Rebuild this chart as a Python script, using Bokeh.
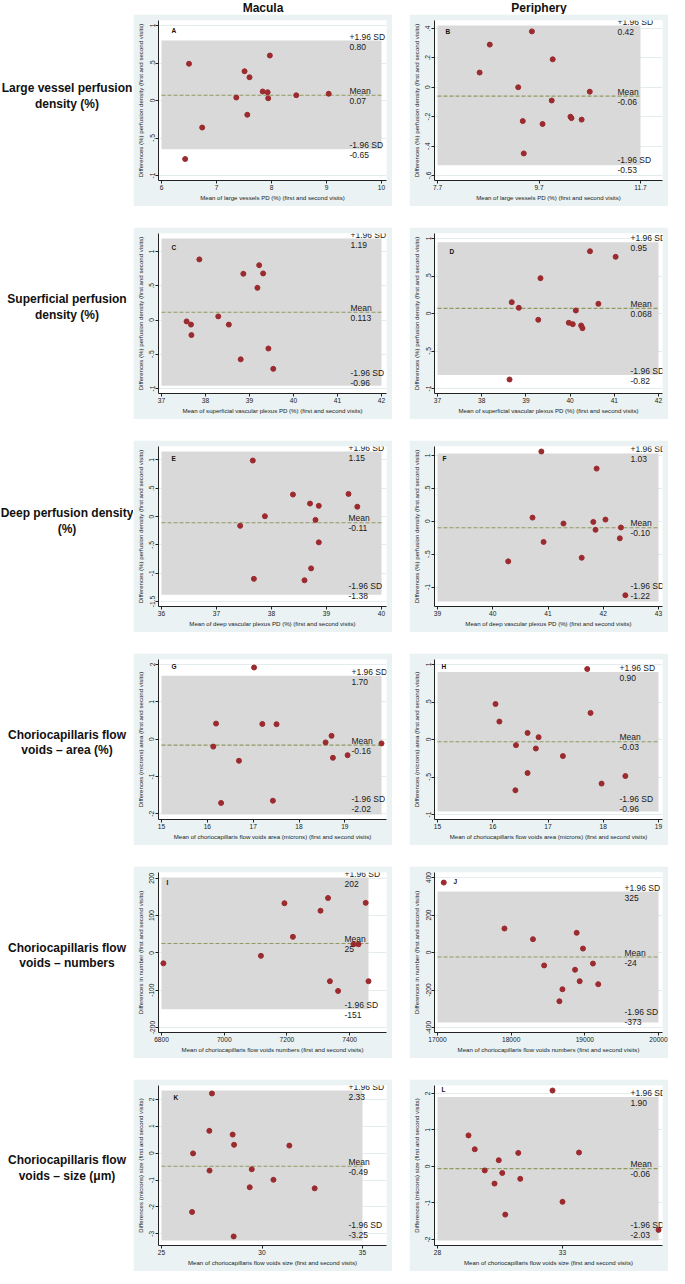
from bokeh.plotting import figure
from bokeh.models import Range1d, FixedTicker, Label, Spacer
from bokeh.layouts import row, column
from bokeh.embed import file_html
from bokeh.resources import INLINE

FONT = "Liberation Sans"

# ---------------- data ----------------
headers = ["Macula", "Periphery"]
row_labels = [
    ["Large vessel perfusion", "density (%)"],
    ["Superficial perfusion", "density (%)"],
    ["Deep perfusion density", "(%)"],
    ["Choriocapillaris flow", "voids \u2013 area (%)"],
    ["Choriocapillaris flow", "voids \u2013 numbers"],
    ["Choriocapillaris flow", "voids \u2013 size (\u03bcm)"],
]
letters = ["A", "B", "C", "D", "E", "F", "G", "H", "I", "J", "K", "L"]

a_mean = [6.50, 7.97, 7.51, 7.60, 7.84, 7.93, 7.36, 7.94, 8.45, 9.04, 7.56, 6.74, 6.43]
a_diff = [0.49, 0.60, 0.39, 0.31, 0.12, 0.11, 0.04, 0.03, 0.07, 0.09, -0.19, -0.36, -0.78]
b_mean = [8.53, 8.73, 9.56, 9.97, 9.29, 10.70, 9.95, 10.32, 10.34, 10.54, 9.38, 9.77, 9.40]
b_diff = [0.10, 0.29, 0.38, 0.19, 0.00, -0.03, -0.09, -0.20, -0.21, -0.22, -0.23, -0.25, -0.45]
c_mean = [37.86, 39.22, 38.86, 39.31, 39.18, 38.29, 37.57, 37.67, 38.53, 37.68, 39.43, 38.80, 39.54]
c_diff = [0.885, 0.80, 0.675, 0.68, 0.47, 0.053, -0.02, -0.067, -0.067, -0.22, -0.416, -0.574, -0.713]
d_mean = [40.45, 41.03, 39.33, 38.68, 38.84, 40.64, 40.13, 39.28, 39.97, 40.06, 40.25, 40.28, 38.63]
d_diff = [0.83, 0.756, 0.471, 0.151, 0.076, 0.129, 0.04, -0.084, -0.124, -0.142, -0.16, -0.196, -0.88]
e_mean = [37.66, 38.39, 39.40, 38.70, 38.86, 39.56, 37.88, 38.80, 37.43, 38.86, 38.72, 37.68, 38.60]
e_diff = [0.99, 0.39, 0.40, 0.23, 0.19, 0.175, 0.006, -0.058, -0.163, -0.455, -0.915, -1.10, -1.125]
f_mean = [40.88, 41.88, 40.72, 41.28, 41.82, 42.04, 41.86, 42.32, 42.30, 40.92, 41.61, 40.28, 42.40]
f_diff = [1.06, 0.80, 0.055, -0.035, -0.01, 0.025, -0.13, -0.095, -0.26, -0.315, -0.555, -0.61, -1.125]
g_mean = [17.02, 16.19, 17.20, 17.51, 18.71, 18.58, 16.13, 19.80, 19.06, 18.74, 16.69, 17.43, 16.30]
g_diff = [1.92, 0.416, 0.407, 0.40, 0.088, -0.088, -0.20, -0.115, -0.43, -0.50, -0.58, -1.65, -1.71]
h_mean = [17.71, 16.05, 17.77, 16.12, 16.63, 16.83, 16.42, 16.78, 17.27, 16.63, 18.40, 17.97, 16.41]
h_diff = [0.94, 0.473, 0.354, 0.239, 0.088, 0.031, -0.075, -0.12, -0.221, -0.447, -0.487, -0.588, -0.677]
i_mean = [7331, 7192, 7451, 7307, 7219, 7412, 7428, 7117, 6806, 7337, 7460, 7363]
i_diff = [147, 133, 134, 113, 43, 23, 23, -8, -28, -76, -76, -102]
j_mean = [17085, 17909, 18296, 18889, 18975, 19110, 18448, 18867, 18930, 19182, 18696, 18655]
j_diff = [373, 128, 71, 105, 21, -59, -69, -92, -153, -169, -196, -260]
k_mean = [27.51, 27.38, 28.54, 28.61, 31.36, 26.57, 27.39, 29.49, 30.57, 29.39, 32.62, 26.52, 28.59]
k_diff = [2.22, 0.83, 0.69, 0.31, 0.28, -0.01, -0.65, -0.60, -0.99, -1.27, -1.31, -2.19, -3.10]
l_mean = [32.60, 29.24, 29.49, 33.66, 31.23, 30.45, 29.89, 30.59, 31.31, 30.28, 33.00, 30.71, 36.84]
l_diff = [2.08, 0.85, 0.47, 0.38, 0.37, 0.17, -0.11, -0.18, -0.34, -0.47, -0.97, -1.32, -1.74]

means = [a_mean, b_mean, c_mean, d_mean, e_mean, f_mean, g_mean, h_mean, i_mean, j_mean, k_mean, l_mean]
diffs = [a_diff, b_diff, c_diff, d_diff, e_diff, f_diff, g_diff, h_diff, i_diff, j_diff, k_diff, l_diff]

loa_upper = ["0.80", "0.42", "1.19", "0.95", "1.15", "1.03", "1.70", "0.90", "202", "325", "2.33", "1.90"]
loa_mean = ["0.07", "-0.06", "0.113", "0.068", "-0.11", "-0.10", "-0.16", "-0.03", "25", "-24", "-0.49", "-0.06"]
loa_lower = ["-0.65", "-0.53", "-0.96", "-0.82", "-1.38", "-1.22", "-2.02", "-0.96", "-151", "-373", "-3.25", "-2.03"]

x_ticks = [
    [6, 7, 8, 9, 10], [7.7, 9.7, 11.7],
    [37, 38, 39, 40, 41, 42], [37, 38, 39, 40, 41, 42],
    [36, 37, 38, 39, 40], [39, 40, 41, 42, 43],
    [15, 16, 17, 18, 19], [15, 16, 17, 18, 19],
    [6800, 7000, 7200, 7400], [17000, 18000, 19000, 20000],
    [25, 30, 35], [28, 33],
]
x_tick_labels = [
    ["6", "7", "8", "9", "10"], ["7.7", "9.7", "11.7"],
    ["37", "38", "39", "40", "41", "42"], ["37", "38", "39", "40", "41", "42"],
    ["36", "37", "38", "39", "40"], ["39", "40", "41", "42", "43"],
    ["15", "16", "17", "18", "19"], ["15", "16", "17", "18", "19"],
    ["6800", "7000", "7200", "7400"], ["17000", "18000", "19000", "20000"],
    ["25", "30", "35"], ["28", "33"],
]
yt_pd = [-1, -0.5, 0, 0.5, 1]
yl_pd = ["-1", "-.5", "0", ".5", "1"]
y_ticks = [
    yt_pd, [-0.6, -0.4, -0.2, 0, 0.2, 0.4],
    yt_pd, yt_pd,
    [-1.5, -1, -0.5, 0, 0.5, 1], yt_pd,
    [-2, -1, 0, 1, 2], yt_pd,
    [-200, -100, 0, 100, 200], [-400, -200, 0, 200, 400],
    [-3, -2, -1, 0, 1, 2], [-2, -1, 0, 1, 2],
]
y_tick_labels = [
    yl_pd, ["-.6", "-.4", "-.2", "0", ".2", ".4"],
    yl_pd, yl_pd,
    ["-1.5", "-1", "-.5", "0", ".5", "1"], yl_pd,
    ["-2", "-1", "0", "1", "2"], yl_pd,
    ["-200", "-100", "0", "100", "200"], ["-400", "-200", "0", "200", "400"],
    ["-3", "-2", "-1", "0", "1", "2"], ["-2", "-1", "0", "1", "2"],
]
x_titles = (
    ["Mean of large vessels PD (%) (first and second visits)"] * 2
    + ["Mean of superficial vascular plexus PD (%) (first and second visits)"] * 2
    + ["Mean of deep vascular plexus PD (%) (first and second visits)"] * 2
    + ["Mean of choriocapillaris flow voids area (microns) (first and second visits)"] * 2
    + ["Mean of choriocapillaris flow voids numbers (first and second visits)"] * 2
    + ["Mean of choriocapillaris flow voids size (first and second visits)"] * 2
)
y_titles = (
    ["Differences (%) perfusion density (first and second visits)"] * 6
    + ["Differences (microns) area (first and second visits)"] * 2
    + ["Differences in number (first and second visits)"] * 2
    + ["Differences (microns) size (first and second visits)"] * 2
)

# ---------------- layout / style ----------------
LABW = 133
PW, PH = 259, 192
BL, BR, BT, BB = 25, 6, 6, 26
FW, FH = PW - BL - BR, PH - BT - BB
LEFT_PAD = 3
VPAD = 5
RIGHT_PAD = [5, 22, 5, 4, 5, 4, 5, 4, 18, 4, 24, 4]
TEXT_X = [191, 183, 192, 196, 190, 196, 193, 185, 186, 190, 190, 196]
LET_DX = [13, 11, 13, 15, 13, 8, 13, 7, 8, 19, 15, 7]
LET_DY = [10, 11, 14, 18, 12, 12, 7, 7, 10, 9, 12, 4]
ROW_LINE1 = [81, 79, 80, 90, 90, 89]
GAP_X, GAP_Y, HEAD_H = 17, 21, 14

BG = "#EAF2F3"
BAND = "#D9D9D9"
DOT = "#9B2B2F"
MEANC = "#8E9A5E"
AX = "#222222"


def make_panel(i):
    xs, ys = means[i], diffs[i]
    xt, yt = x_ticks[i], y_ticks[i]
    up, mn, lo = float(loa_upper[i]), float(loa_mean[i]), float(loa_lower[i])
    b0 = min(xt[0], min(xs))
    b1 = max(xt[-1], max(xs))
    rp = RIGHT_PAD[i]
    sx = (FW - LEFT_PAD - rp) / (b1 - b0)
    x0, x1 = b0 - LEFT_PAD / sx, b1 + rp / sx
    e0 = min(yt[0], min(ys), lo)
    e1 = max(yt[-1], max(ys), up)
    sy = (FH - 2 * VPAD) / (e1 - e0)
    y0, y1 = e0 - VPAD / sy, e1 + VPAD / sy

    p = figure(width=PW, height=PH, x_range=Range1d(x0, x1), y_range=Range1d(y0, y1),
               output_backend="svg", toolbar_location=None,
               min_border_left=BL, min_border_right=BR, min_border_top=BT, min_border_bottom=BB,
               border_fill_color=BG, background_fill_color="white", outline_line_color=None)

    p.xaxis.ticker = FixedTicker(ticks=xt)
    p.xaxis.major_label_overrides = {t: s for t, s in zip(xt, x_tick_labels[i])}
    p.yaxis.ticker = FixedTicker(ticks=yt)
    p.yaxis.major_label_overrides = {t: s for t, s in zip(yt, y_tick_labels[i])}
    p.yaxis.major_label_orientation = "vertical"
    p.xaxis.axis_label = x_titles[i]
    p.yaxis.axis_label = y_titles[i]
    for ax in (p.xaxis, p.yaxis):
        ax.axis_line_color = AX
        ax.axis_line_width = 1
        ax.major_tick_line_color = AX
        ax.major_tick_out = 3
        ax.major_tick_in = 0
        ax.minor_tick_line_color = None
        ax.major_label_text_font = FONT
        ax.major_label_text_font_size = "6.6px"
        ax.major_label_text_color = "#222222"
        ax.major_label_standoff = 1
        ax.axis_label_text_font = FONT
        ax.axis_label_text_font_size = "6.1px"
        ax.axis_label_text_font_style = "normal"
        ax.axis_label_text_color = "#222222"
    p.xaxis.axis_label_standoff = 1
    p.yaxis.axis_label_standoff = 3
    p.xgrid.visible = False
    p.ygrid.ticker = FixedTicker(ticks=yt)
    p.ygrid.grid_line_color = "#E4ECEE"

    p.quad(left=[b0], right=[b1], bottom=[lo], top=[up], fill_color=BAND, line_color=None)
    p.segment(x0=[b0], x1=[b1], y0=[mn], y1=[mn], line_color=MEANC, line_width=1.1, line_dash="4 2")
    p.scatter(xs, ys, size=5, fill_color=DOT, line_color=DOT)

    def px2x(px):
        return x0 + px * (x1 - x0) / FW

    def py2y(py):
        return y1 - py * (y1 - y0) / FH

    def y2py(v):
        return (y1 - v) * FH / (y1 - y0)

    tx = px2x(TEXT_X[i])
    for head, val, num, shift in (("+1.96 SD", loa_upper[i], up, 1.0),
                                  ("Mean", loa_mean[i], mn, 0.5),
                                  ("-1.96 SD", loa_lower[i], lo, 0.5)):
        c = min(max(y2py(num) + shift, 6), 144)
        for txt, off in ((head, -5), (val, 5)):
            p.add_layout(Label(x=tx, y=py2y(c + off), text=txt, text_font=FONT,
                               text_font_size="8.5px", text_color="#1a1a1a",
                               text_align="left", text_baseline="middle"))
    p.add_layout(Label(x=px2x(LET_DX[i]), y=py2y(LET_DY[i]), text=letters[i], text_font=FONT,
                       text_font_size="6.5px", text_font_style="bold", text_color="#111111",
                       text_align="left", text_baseline="middle"))
    return p


def blank_fig(w, h):
    f = figure(width=w, height=h, x_range=Range1d(0, w), y_range=Range1d(0, h),
               output_backend="svg", toolbar_location=None, min_border=0,
               x_axis_location=None, y_axis_location=None,
               border_fill_color="white", background_fill_color="white", outline_line_color=None)
    f.grid.visible = False
    return f


def make_row_label(r):
    f = blank_fig(LABW, PH)
    for k, line in enumerate(row_labels[r]):
        f.add_layout(Label(x=LABW / 2, y=PH - (ROW_LINE1[r] + 19 * k), text=line, text_font=FONT,
                           text_font_size="12px", text_font_style="bold", text_color="#111111",
                           text_align="center", text_baseline="middle"))
    return f


TOTW = LABW + 2 * PW + GAP_X
head = blank_fig(TOTW, HEAD_H)
for k, h in enumerate(headers):
    cx = LABW + PW / 2 + k * (PW + GAP_X)
    head.add_layout(Label(x=cx, y=HEAD_H - 7, text=h, text_font=FONT, text_font_size="12px",
                          text_font_style="bold", text_color="#111111",
                          text_align="center", text_baseline="middle"))

items = [head]
for r in range(6):
    items.append(row(make_row_label(r), make_panel(2 * r), Spacer(width=GAP_X, height=PH),
                     make_panel(2 * r + 1)))
    if r < 5:
        items.append(Spacer(width=TOTW, height=GAP_Y))

layout = column(*items)
open("out.html", "w").write(file_html(layout, INLINE))
